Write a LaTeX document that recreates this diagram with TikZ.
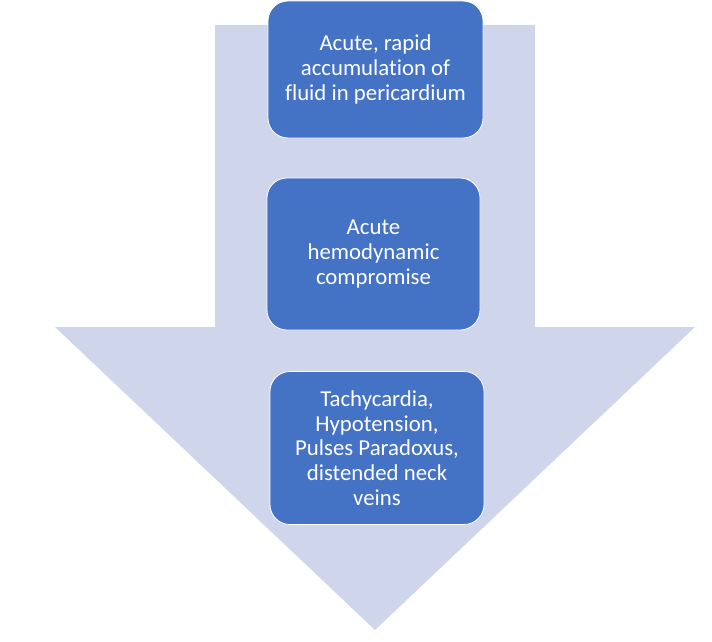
\documentclass[tikz,border=0pt]{standalone}
\usepackage{fontspec}
\setmainfont{Carlito}[Ligatures=NoCommon]
\definecolor{arrowfill}{HTML}{CFD5EA}
\definecolor{boxfill}{HTML}{4472C4}
\begin{document}
\begin{tikzpicture}[x=1pt,y=-1pt,
  stepbox/.style={draw=white, line width=0.8pt, fill=boxfill, rounded corners=20pt,
    text=white, align=center, inner sep=0pt,
    font=\fontsize{22.8}{24.6}\selectfont}]
\useasboundingbox (0,0) rectangle (712,642);
\fill[arrowfill] (215,25) -- (535,25) -- (535,327) -- (695,327) -- (375,630) -- (55,327) -- (215,327) -- cycle;
\node[stepbox, minimum width=215pt, minimum height=137pt] (b1) at (375.5,69.5)
  {Acute, rapid\\accumulation of\\fluid in pericardium};
\node[stepbox, minimum width=213pt, minimum height=152pt] (b2) at (373.5,254)
  {Acute\\hemodynamic\\compromise};
\node[stepbox, minimum width=214pt, minimum height=153pt] (b3) at (377,448)
  {Tachycardia,\\Hypotension,\\Pulses Paradoxus,\\distended neck\\veins};
\end{tikzpicture}
\end{document}
